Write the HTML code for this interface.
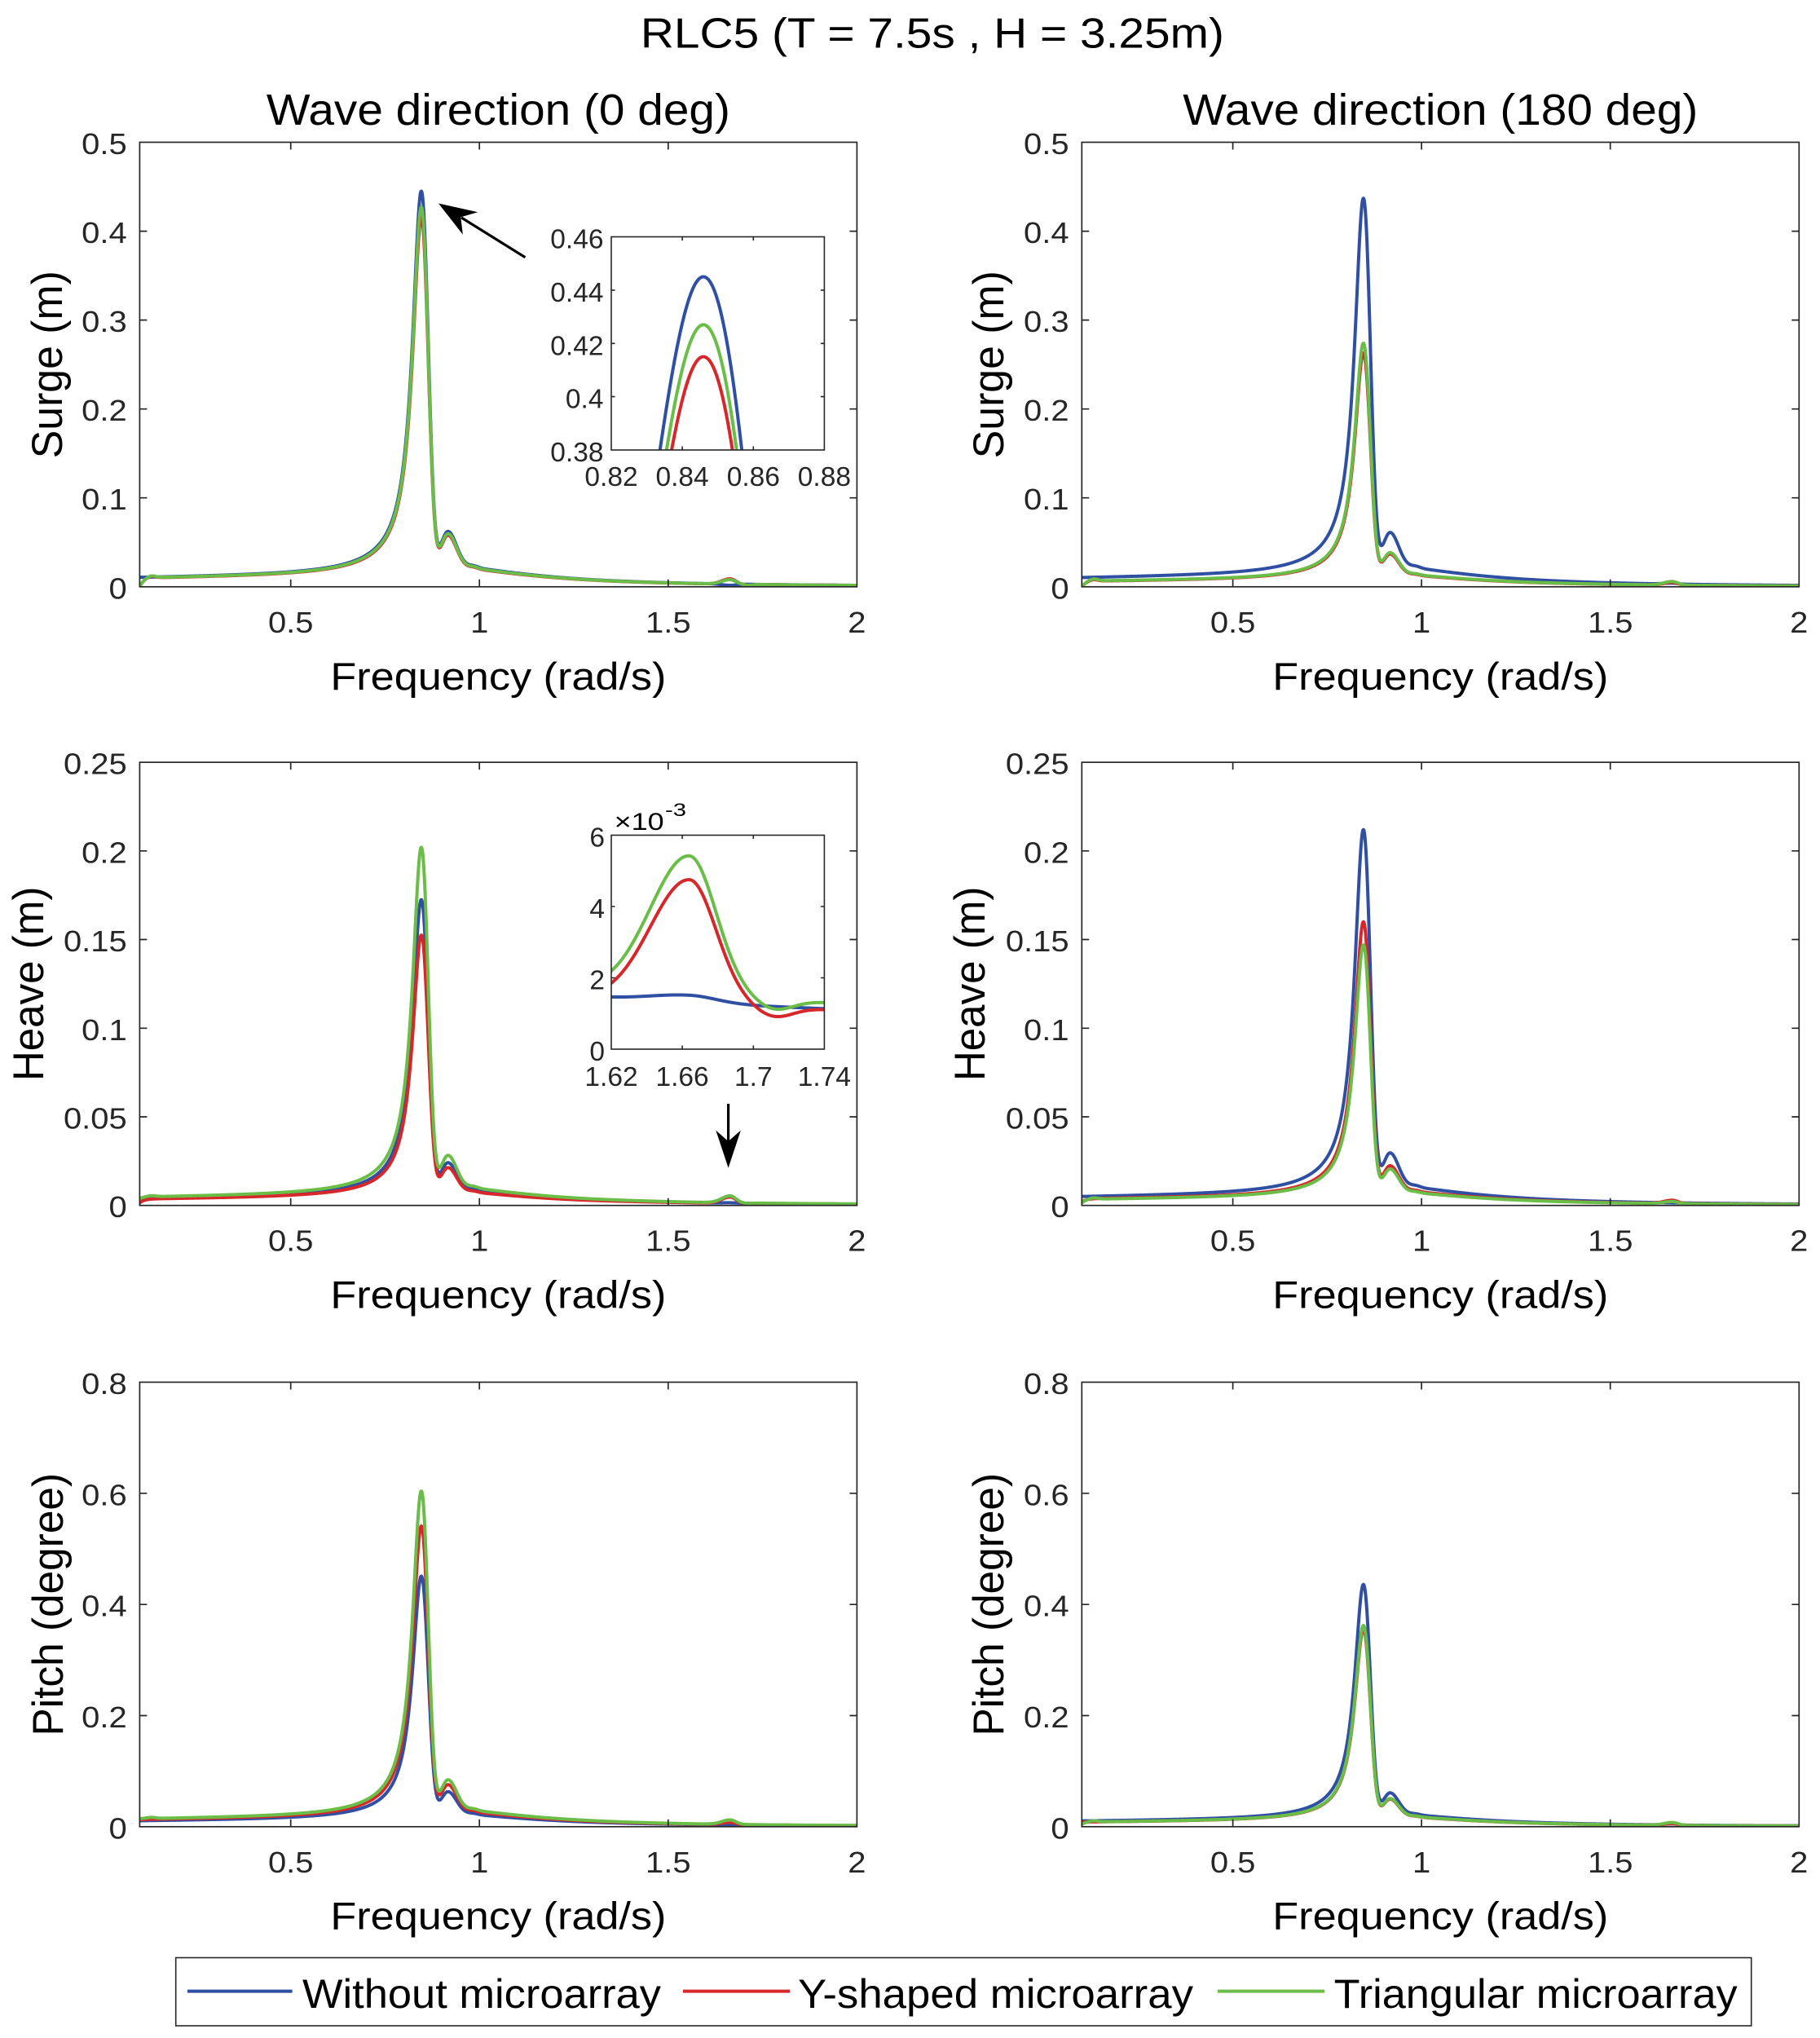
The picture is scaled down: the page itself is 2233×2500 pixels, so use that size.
<!DOCTYPE html>
<html><head><meta charset="utf-8">
<style>
html,body{margin:0;padding:0;background:#fff;}
svg{display:block;}
text{font-family:"Liberation Sans",Arial,Helvetica,sans-serif;fill:#000;}
.tk{font-size:36px;fill:#262626;}
.itk{font-size:33.5px;fill:#262626;}
.ax{fill:none;stroke:#262626;stroke-width:1.7;}
.iax{fill:none;stroke:#262626;stroke-width:1.6;}
</style></head>
<body>
<svg id="s" width="2233" height="2500" viewBox="0 0 2233 2500" xmlns="http://www.w3.org/2000/svg">
<defs>
<clipPath id="ctl"><rect x="171.4" y="174.5" width="880" height="545.3"/></clipPath>
<clipPath id="ctr"><rect x="1327.3" y="174.5" width="880" height="545.3"/></clipPath>
<clipPath id="cml"><rect x="171.4" y="935.1" width="880" height="543.6"/></clipPath>
<clipPath id="cmr"><rect x="1327.3" y="935.1" width="880" height="543.6"/></clipPath>
<clipPath id="cbl"><rect x="171.4" y="1695.5" width="880" height="545.3"/></clipPath>
<clipPath id="cbr"><rect x="1327.3" y="1695.5" width="880" height="545.3"/></clipPath>
<clipPath id="ci1"><rect x="750" y="290.5" width="261.4" height="261.5"/></clipPath>
<clipPath id="ci2"><rect x="750" y="1024.5" width="261.4" height="262.5"/></clipPath>
</defs>
<rect width="2233" height="2500" fill="#fff"/>

<g id="main"></g>

<rect x="750" y="290.5" width="261.4" height="261.5" fill="#fff"/>
<rect x="750" y="1024.5" width="261.4" height="262.5" fill="#fff"/>
<g id="ins"></g>

<!-- Main title -->
<text x="1143.9" y="58.5" text-anchor="middle" font-size="51.5" textLength="716" lengthAdjust="spacingAndGlyphs">RLC5 (T = 7.5s , H = 3.25m)</text>

<!-- ================= LEFT COLUMN ================= -->
<g>
<text x="611.4" y="153" text-anchor="middle" font-size="54" textLength="569" lengthAdjust="spacingAndGlyphs">Wave direction (0 deg)</text>

<!-- Row 1 -->
<rect class="ax" x="171.4" y="174.5" width="880" height="545.3"/>
<path class="ax" d="M356.7 719.8V710.8M588.2 719.8V710.8M819.8 719.8V710.8M356.7 174.5V183.5M588.2 174.5V183.5M819.8 174.5V183.5M171.4 610.7H180.4M171.4 501.7H180.4M171.4 392.6H180.4M171.4 283.6H180.4M1051.4 610.7H1042.4M1051.4 501.7H1042.4M1051.4 392.6H1042.4M1051.4 283.6H1042.4"/>
<text class="tk" text-anchor="middle" transform="translate(356.7,776) scale(1.11,1)">0.5</text>
<text class="tk" text-anchor="middle" transform="translate(588.2,776) scale(1.11,1)">1</text>
<text class="tk" text-anchor="middle" transform="translate(819.8,776) scale(1.11,1)">1.5</text>
<text class="tk" text-anchor="middle" transform="translate(1051.4,776) scale(1.11,1)">2</text>
<text class="tk" text-anchor="end" transform="translate(155.7,734.3) scale(1.11,1)">0</text>
<text class="tk" text-anchor="end" transform="translate(155.7,625.2) scale(1.11,1)">0.1</text>
<text class="tk" text-anchor="end" transform="translate(155.7,516.2) scale(1.11,1)">0.2</text>
<text class="tk" text-anchor="end" transform="translate(155.7,407.1) scale(1.11,1)">0.3</text>
<text class="tk" text-anchor="end" transform="translate(155.7,298.1) scale(1.11,1)">0.4</text>
<text class="tk" text-anchor="end" transform="translate(155.7,189) scale(1.11,1)">0.5</text>
<text x="611.4" y="846" text-anchor="middle" font-size="47" textLength="412" lengthAdjust="spacingAndGlyphs">Frequency (rad/s)</text>
<text transform="translate(76,447.2) rotate(-90)" text-anchor="middle" font-size="53" textLength="230" lengthAdjust="spacingAndGlyphs">Surge (m)</text>

<!-- Inset 1 -->
<rect class="iax" x="750" y="290.5" width="261.4" height="261.5"/>
<path class="iax" d="M837.1 552V547.5M924.3 552V547.5M837.1 290.5V295M924.3 290.5V295M750 486.6H754.5M750 421.3H754.5M750 355.9H754.5M1011.4 486.6H1006.9M1011.4 421.3H1006.9M1011.4 355.9H1006.9"/>
<text class="itk" text-anchor="end" x="740.5" y="566">0.38</text>
<text class="itk" text-anchor="end" x="740.5" y="500.6">0.4</text>
<text class="itk" text-anchor="end" x="740.5" y="435.3">0.42</text>
<text class="itk" text-anchor="end" x="740.5" y="369.9">0.44</text>
<text class="itk" text-anchor="end" x="740.5" y="304.5">0.46</text>
<text class="itk" text-anchor="middle" x="750" y="596">0.82</text>
<text class="itk" text-anchor="middle" x="837.1" y="596">0.84</text>
<text class="itk" text-anchor="middle" x="924.3" y="596">0.86</text>
<text class="itk" text-anchor="middle" x="1011.4" y="596">0.88</text>

<!-- Arrow 1 -->
<line x1="644.4" y1="315.7" x2="566" y2="266.9" stroke="#000" stroke-width="3.2"/>
<polygon points="538,249.5 586.3,260.2 565.2,266.4 567.9,287.8" fill="#000"/>

<!-- Row 2 -->
<rect class="ax" x="171.4" y="935.1" width="880" height="543.6"/>
<path class="ax" d="M356.7 1478.7V1469.7M588.2 1478.7V1469.7M819.8 1478.7V1469.7M356.7 935.1V944.1M588.2 935.1V944.1M819.8 935.1V944.1M171.4 1370H180.4M171.4 1261.3H180.4M171.4 1152.5H180.4M171.4 1043.8H180.4M1051.4 1370H1042.4M1051.4 1261.3H1042.4M1051.4 1152.5H1042.4M1051.4 1043.8H1042.4"/>
<text class="tk" text-anchor="middle" transform="translate(356.7,1534.7) scale(1.11,1)">0.5</text>
<text class="tk" text-anchor="middle" transform="translate(588.2,1534.7) scale(1.11,1)">1</text>
<text class="tk" text-anchor="middle" transform="translate(819.8,1534.7) scale(1.11,1)">1.5</text>
<text class="tk" text-anchor="middle" transform="translate(1051.4,1534.7) scale(1.11,1)">2</text>
<text class="tk" text-anchor="end" transform="translate(155.7,1493.2) scale(1.11,1)">0</text>
<text class="tk" text-anchor="end" transform="translate(155.7,1384.5) scale(1.11,1)">0.05</text>
<text class="tk" text-anchor="end" transform="translate(155.7,1275.8) scale(1.11,1)">0.1</text>
<text class="tk" text-anchor="end" transform="translate(155.7,1167) scale(1.11,1)">0.15</text>
<text class="tk" text-anchor="end" transform="translate(155.7,1058.3) scale(1.11,1)">0.2</text>
<text class="tk" text-anchor="end" transform="translate(155.7,949.6) scale(1.11,1)">0.25</text>
<text x="611.4" y="1604.5" text-anchor="middle" font-size="47" textLength="412" lengthAdjust="spacingAndGlyphs">Frequency (rad/s)</text>
<text transform="translate(53,1206.9) rotate(-90)" text-anchor="middle" font-size="53" textLength="238.5" lengthAdjust="spacingAndGlyphs">Heave (m)</text>

<!-- Inset 2 -->
<rect class="iax" x="750" y="1024.5" width="261.4" height="262.5"/>
<path class="iax" d="M837.1 1287V1282.5M924.3 1287V1282.5M837.1 1024.5V1029M924.3 1024.5V1029M750 1199.5H754.5M750 1112H754.5M1011.4 1199.5H1006.9M1011.4 1112H1006.9"/>
<text class="itk" text-anchor="end" x="742" y="1301">0</text>
<text class="itk" text-anchor="end" x="742" y="1213.5">2</text>
<text class="itk" text-anchor="end" x="742" y="1126">4</text>
<text class="itk" text-anchor="end" x="742" y="1038.5">6</text>
<text class="itk" text-anchor="middle" x="750" y="1332">1.62</text>
<text class="itk" text-anchor="middle" x="837.1" y="1332">1.66</text>
<text class="itk" text-anchor="middle" x="924.3" y="1332">1.7</text>
<text class="itk" text-anchor="middle" x="1011.4" y="1332">1.74</text>
<text x="753.6" y="1018" font-size="30" fill="#262626" textLength="61" lengthAdjust="spacingAndGlyphs">×10</text>
<text x="816" y="1001" font-size="22" fill="#262626" textLength="26" lengthAdjust="spacingAndGlyphs">-3</text>

<!-- Arrow 2 -->
<line x1="893.6" y1="1354" x2="893.6" y2="1402" stroke="#000" stroke-width="3.2"/>
<polygon points="893.6,1432.6 878.3,1386.6 893.6,1400 908.9,1386.6" fill="#000"/>

<!-- Row 3 -->
<rect class="ax" x="171.4" y="1695.5" width="880" height="545.3"/>
<path class="ax" d="M356.7 2240.8V2231.8M588.2 2240.8V2231.8M819.8 2240.8V2231.8M356.7 1695.5V1704.5M588.2 1695.5V1704.5M819.8 1695.5V1704.5M171.4 2104.5H180.4M171.4 1968.2H180.4M171.4 1831.8H180.4M1051.4 2104.5H1042.4M1051.4 1968.2H1042.4M1051.4 1831.8H1042.4"/>
<text class="tk" text-anchor="middle" transform="translate(356.7,2296.8) scale(1.11,1)">0.5</text>
<text class="tk" text-anchor="middle" transform="translate(588.2,2296.8) scale(1.11,1)">1</text>
<text class="tk" text-anchor="middle" transform="translate(819.8,2296.8) scale(1.11,1)">1.5</text>
<text class="tk" text-anchor="middle" transform="translate(1051.4,2296.8) scale(1.11,1)">2</text>
<text class="tk" text-anchor="end" transform="translate(155.7,2255.3) scale(1.11,1)">0</text>
<text class="tk" text-anchor="end" transform="translate(155.7,2119) scale(1.11,1)">0.2</text>
<text class="tk" text-anchor="end" transform="translate(155.7,1982.7) scale(1.11,1)">0.4</text>
<text class="tk" text-anchor="end" transform="translate(155.7,1846.3) scale(1.11,1)">0.6</text>
<text class="tk" text-anchor="end" transform="translate(155.7,1710) scale(1.11,1)">0.8</text>
<text x="611.4" y="2366.5" text-anchor="middle" font-size="47" textLength="412" lengthAdjust="spacingAndGlyphs">Frequency (rad/s)</text>
<text transform="translate(77,1968.2) rotate(-90)" text-anchor="middle" font-size="53" textLength="322.5" lengthAdjust="spacingAndGlyphs">Pitch (degree)</text>
</g>

<!-- ================= RIGHT COLUMN ================= -->
<g transform="translate(1155.9,0)">
<text x="611.4" y="153" text-anchor="middle" font-size="54" textLength="632" lengthAdjust="spacingAndGlyphs">Wave direction (180 deg)</text>

<rect class="ax" x="171.4" y="174.5" width="880" height="545.3"/>
<path class="ax" d="M356.7 719.8V710.8M588.2 719.8V710.8M819.8 719.8V710.8M356.7 174.5V183.5M588.2 174.5V183.5M819.8 174.5V183.5M171.4 610.7H180.4M171.4 501.7H180.4M171.4 392.6H180.4M171.4 283.6H180.4M1051.4 610.7H1042.4M1051.4 501.7H1042.4M1051.4 392.6H1042.4M1051.4 283.6H1042.4"/>
<text class="tk" text-anchor="middle" transform="translate(356.7,776) scale(1.11,1)">0.5</text>
<text class="tk" text-anchor="middle" transform="translate(588.2,776) scale(1.11,1)">1</text>
<text class="tk" text-anchor="middle" transform="translate(819.8,776) scale(1.11,1)">1.5</text>
<text class="tk" text-anchor="middle" transform="translate(1051.4,776) scale(1.11,1)">2</text>
<text class="tk" text-anchor="end" transform="translate(155.7,734.3) scale(1.11,1)">0</text>
<text class="tk" text-anchor="end" transform="translate(155.7,625.2) scale(1.11,1)">0.1</text>
<text class="tk" text-anchor="end" transform="translate(155.7,516.2) scale(1.11,1)">0.2</text>
<text class="tk" text-anchor="end" transform="translate(155.7,407.1) scale(1.11,1)">0.3</text>
<text class="tk" text-anchor="end" transform="translate(155.7,298.1) scale(1.11,1)">0.4</text>
<text class="tk" text-anchor="end" transform="translate(155.7,189) scale(1.11,1)">0.5</text>
<text x="611.4" y="846" text-anchor="middle" font-size="47" textLength="412" lengthAdjust="spacingAndGlyphs">Frequency (rad/s)</text>
<text transform="translate(75.3,447.2) rotate(-90)" text-anchor="middle" font-size="53" textLength="230" lengthAdjust="spacingAndGlyphs">Surge (m)</text>

<rect class="ax" x="171.4" y="935.1" width="880" height="543.6"/>
<path class="ax" d="M356.7 1478.7V1469.7M588.2 1478.7V1469.7M819.8 1478.7V1469.7M356.7 935.1V944.1M588.2 935.1V944.1M819.8 935.1V944.1M171.4 1370H180.4M171.4 1261.3H180.4M171.4 1152.5H180.4M171.4 1043.8H180.4M1051.4 1370H1042.4M1051.4 1261.3H1042.4M1051.4 1152.5H1042.4M1051.4 1043.8H1042.4"/>
<text class="tk" text-anchor="middle" transform="translate(356.7,1534.7) scale(1.11,1)">0.5</text>
<text class="tk" text-anchor="middle" transform="translate(588.2,1534.7) scale(1.11,1)">1</text>
<text class="tk" text-anchor="middle" transform="translate(819.8,1534.7) scale(1.11,1)">1.5</text>
<text class="tk" text-anchor="middle" transform="translate(1051.4,1534.7) scale(1.11,1)">2</text>
<text class="tk" text-anchor="end" transform="translate(155.7,1493.2) scale(1.11,1)">0</text>
<text class="tk" text-anchor="end" transform="translate(155.7,1384.5) scale(1.11,1)">0.05</text>
<text class="tk" text-anchor="end" transform="translate(155.7,1275.8) scale(1.11,1)">0.1</text>
<text class="tk" text-anchor="end" transform="translate(155.7,1167) scale(1.11,1)">0.15</text>
<text class="tk" text-anchor="end" transform="translate(155.7,1058.3) scale(1.11,1)">0.2</text>
<text class="tk" text-anchor="end" transform="translate(155.7,949.6) scale(1.11,1)">0.25</text>
<text x="611.4" y="1604.5" text-anchor="middle" font-size="47" textLength="412" lengthAdjust="spacingAndGlyphs">Frequency (rad/s)</text>
<text transform="translate(52.3,1206.9) rotate(-90)" text-anchor="middle" font-size="53" textLength="238.5" lengthAdjust="spacingAndGlyphs">Heave (m)</text>

<rect class="ax" x="171.4" y="1695.5" width="880" height="545.3"/>
<path class="ax" d="M356.7 2240.8V2231.8M588.2 2240.8V2231.8M819.8 2240.8V2231.8M356.7 1695.5V1704.5M588.2 1695.5V1704.5M819.8 1695.5V1704.5M171.4 2104.5H180.4M171.4 1968.2H180.4M171.4 1831.8H180.4M1051.4 2104.5H1042.4M1051.4 1968.2H1042.4M1051.4 1831.8H1042.4"/>
<text class="tk" text-anchor="middle" transform="translate(356.7,2296.8) scale(1.11,1)">0.5</text>
<text class="tk" text-anchor="middle" transform="translate(588.2,2296.8) scale(1.11,1)">1</text>
<text class="tk" text-anchor="middle" transform="translate(819.8,2296.8) scale(1.11,1)">1.5</text>
<text class="tk" text-anchor="middle" transform="translate(1051.4,2296.8) scale(1.11,1)">2</text>
<text class="tk" text-anchor="end" transform="translate(155.7,2255.3) scale(1.11,1)">0</text>
<text class="tk" text-anchor="end" transform="translate(155.7,2119) scale(1.11,1)">0.2</text>
<text class="tk" text-anchor="end" transform="translate(155.7,1982.7) scale(1.11,1)">0.4</text>
<text class="tk" text-anchor="end" transform="translate(155.7,1846.3) scale(1.11,1)">0.6</text>
<text class="tk" text-anchor="end" transform="translate(155.7,1710) scale(1.11,1)">0.8</text>
<text x="611.4" y="2366.5" text-anchor="middle" font-size="47" textLength="412" lengthAdjust="spacingAndGlyphs">Frequency (rad/s)</text>
<text transform="translate(75.3,1968.2) rotate(-90)" text-anchor="middle" font-size="53" textLength="322.5" lengthAdjust="spacingAndGlyphs">Pitch (degree)</text>
</g>

<!-- ================= LEGEND ================= -->
<rect x="215.7" y="2401.5" width="1933" height="83.5" fill="#fff" stroke="#262626" stroke-width="1.6"/>
<line x1="230" y1="2442.6" x2="358.6" y2="2442.6" stroke="#2f4fa3" stroke-width="4"/>
<text x="371" y="2463" font-size="50" textLength="440" lengthAdjust="spacingAndGlyphs">Without microarray</text>
<line x1="838" y1="2442.6" x2="969" y2="2442.6" stroke="#d7272b" stroke-width="4"/>
<text x="979" y="2463" font-size="50" textLength="485" lengthAdjust="spacingAndGlyphs">Y-shaped microarray</text>
<line x1="1494" y1="2442.6" x2="1625" y2="2442.6" stroke="#6abd46" stroke-width="4"/>
<text x="1636.7" y="2463" font-size="50" textLength="495" lengthAdjust="spacingAndGlyphs">Triangular microarray</text>
</svg>

<script>
(function(){
var NS="http://www.w3.org/2000/svg";
function G(w,m,s){return Math.exp(-(w-m)*(w-m)/(2*s*s));}
function raw(w){
  var d=w-0.846;
  var L=1/(1+(d/0.0285)*(d/0.0285));
  if(d>0) L*=Math.exp(-Math.pow(d/0.033,3));
  var s=1/(1+Math.exp(-d/0.006));
  var bgL=0.0094+0.006*(w-0.1)+0.014/(1+(d/0.15)*(d/0.15));
  var bump=w<0.917?0.037*G(w,0.917,0.018):0.037*G(w,0.917,0.022);
  var R=0.0262/(1+(d/0.3)*(d/0.3))+bump+0.0018*G(w,0.985,0.012);
  return 0.415*L+(1-s)*bgL+s*R;
}
var M=0;for(var w=0.8;w<0.9;w+=0.0001){var r=raw(w);if(r>M)M=r;}
function T(w){return raw(w)/M;}
function val(c,w){
  var st=c.st==null?1:c.st;
  var sf=st+(1-st)*(1-Math.exp(-(w-0.1)/0.012));
  var hb=w<1.664?G(w,1.664,0.022):G(w,1.664,0.015);
  return c.P*T(w)*sf+(c.lb||0)*G(w,0.13,0.012)+(c.A||0)*hb-(c.D||0)*G(w,1.712,0.01)+(c.tl||0)/(1+Math.exp(-(w-1.3)/0.05));
}
var B="#2f4fa3",Rd="#d7272b",Gr="#6abd46";
var AX={
 tl:{x0:171.4,x1:1051.4,y0:174.5,y1:719.8,vmax:0.5,clip:"ctl"},
 tr:{x0:1327.3,x1:2207.3,y0:174.5,y1:719.8,vmax:0.5,clip:"ctr"},
 ml:{x0:171.4,x1:1051.4,y0:935.1,y1:1478.7,vmax:0.25,clip:"cml"},
 mr:{x0:1327.3,x1:2207.3,y0:935.1,y1:1478.7,vmax:0.25,clip:"cmr"},
 bl:{x0:171.4,x1:1051.4,y0:1695.5,y1:2240.8,vmax:0.8,clip:"cbl"},
 br:{x0:1327.3,x1:2207.3,y0:1695.5,y1:2240.8,vmax:0.8,clip:"cbr"}
};
var CV={
 tl:[{col:B,P:.445,st:1,A:-0.0015},{col:Rd,P:.415,st:0,lb:.0025,A:.006,D:.001},{col:Gr,P:.427,st:0,lb:.0025,A:.005,D:.001}],
 tr:[{col:B,P:.437,st:1,A:.001},{col:Rd,P:.263,st:0,lb:.002,A:.003},{col:Gr,P:.274,st:0,lb:.0025,A:.004}],
 ml:[{col:B,P:.1725,st:1,A:.0002,tl:.0001},{col:Rd,P:.1525,st:.4,A:.00348,D:.00027,tl:.0002},{col:Gr,P:.202,st:.8,lb:.0006,A:.0039,D:.00028,tl:.0001}],
 mr:[{col:B,P:.212,st:1},{col:Rd,P:.160,st:.5,A:.0018},{col:Gr,P:.147,st:.4,lb:.0008,A:.0012}],
 bl:[{col:B,P:.451,st:1},{col:Rd,P:.541,st:1,A:.004},{col:Gr,P:.604,st:1,lb:.002,A:.008}],
 br:[{col:B,P:.436,st:1,A:.002},{col:Rd,P:.355,st:1,A:.003},{col:Gr,P:.362,st:.5,lb:.002,A:.005}]
};
function mk(g,d,col,clip){
  var p=document.createElementNS(NS,"path");
  p.setAttribute("d",d);p.setAttribute("fill","none");p.setAttribute("stroke",col);
  p.setAttribute("stroke-width","4");p.setAttribute("stroke-linejoin","round");p.setAttribute("stroke-linecap","round");
  p.setAttribute("clip-path","url(#"+clip+")");g.appendChild(p);
}
var gm=document.getElementById("main"),gi=document.getElementById("ins");
var ws=[];for(var w=0.1;w<0.75;w+=0.002)ws.push(w);for(w=0.75;w<1.05;w+=0.0005)ws.push(w);for(w=1.05;w<=2.0001;w+=0.002)ws.push(w);
for(var k in AX){
  var a=AX[k];
  CV[k].forEach(function(c){
    var s="";
    for(var i=0;i<ws.length;i++){
      var x=a.x0+(ws[i]-0.1)/1.9*(a.x1-a.x0);
      var y=a.y1-val(c,ws[i])/a.vmax*(a.y1-a.y0);
      s+=(i?"L":"M")+x.toFixed(2)+" "+y.toFixed(2);
    }
    mk(gm,s,c.col,a.clip);
  });
}
function inset(list,a){
  list.forEach(function(c){
    var s="",i=0;
    for(var w=a.w0;w<=a.w1+1e-9;w+=(a.w1-a.w0)/600){
      var x=a.x0+(w-a.w0)/(a.w1-a.w0)*(a.x1-a.x0);
      var y=a.y1-(val(c,w)-a.v0)/(a.v1-a.v0)*(a.y1-a.y0);
      if(y>a.y1+50)y=a.y1+50;
      s+=(i++?"L":"M")+x.toFixed(2)+" "+y.toFixed(2);
    }
    mk(gi,s,c.col,a.clip);
  });
}
inset(CV.tl,{x0:750,x1:1011.4,y0:290.5,y1:552,w0:0.82,w1:0.88,v0:0.38,v1:0.46,clip:"ci1"});
inset(CV.ml,{x0:750,x1:1011.4,y0:1024.5,y1:1287,w0:1.62,w1:1.74,v0:0,v1:0.006,clip:"ci2"});
})();
</script>
</body></html>
